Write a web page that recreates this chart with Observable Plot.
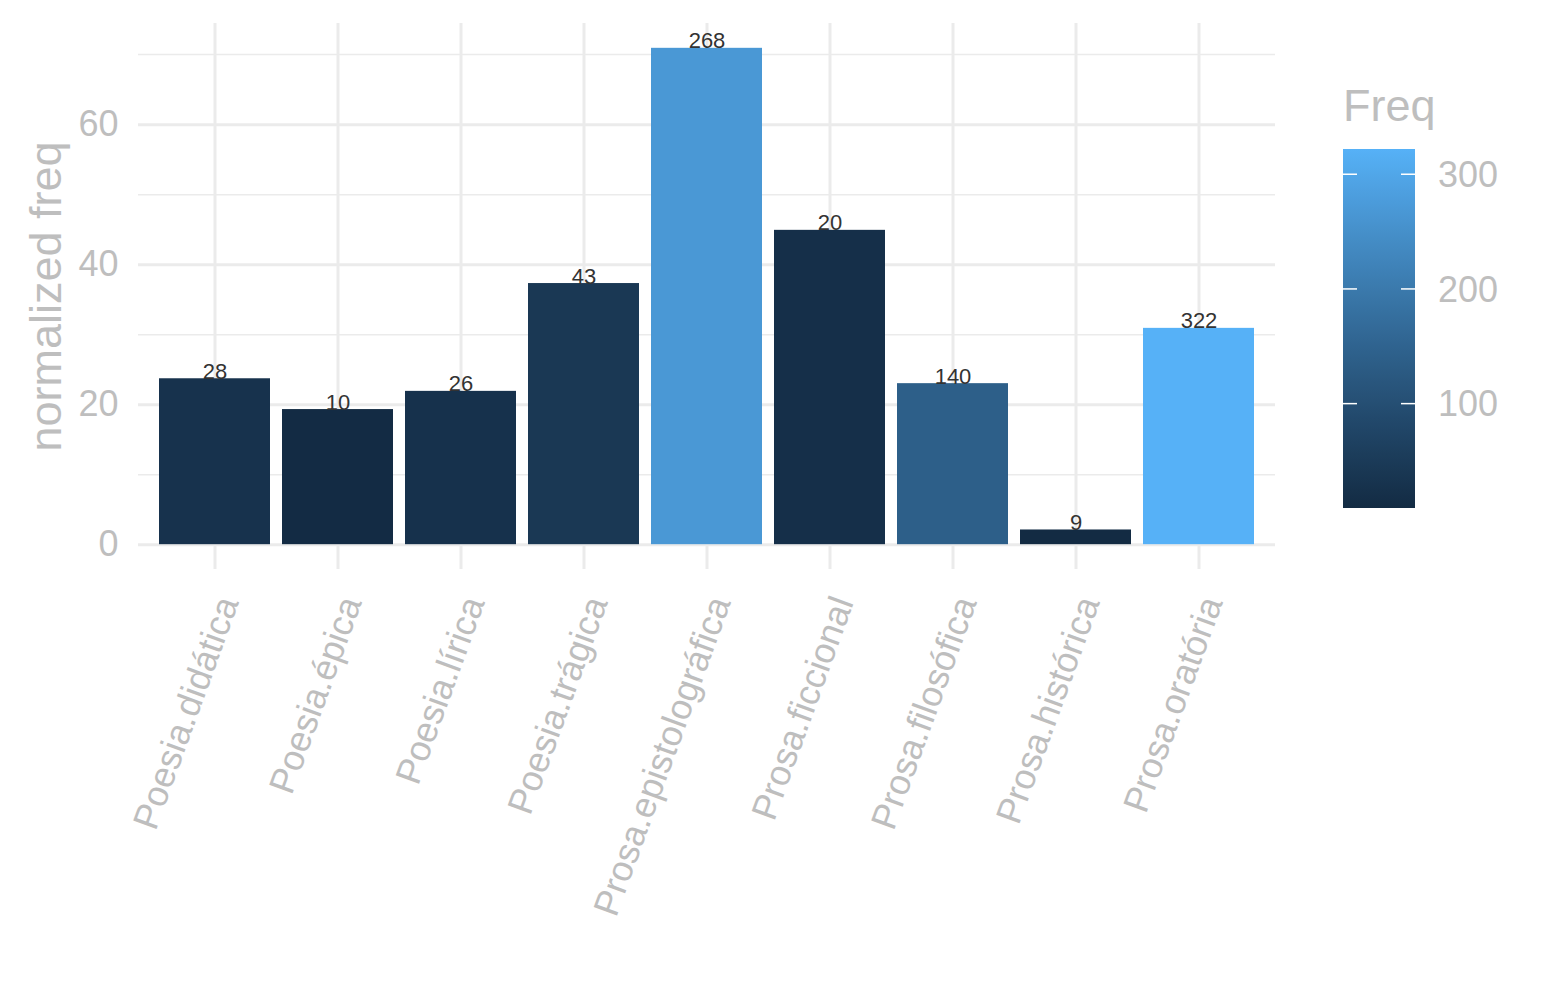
<!DOCTYPE html>
<html>
<head>
<meta charset="utf-8">
<script src="https://cdn.jsdelivr.net/npm/d3@7"></script>
<script src="https://cdn.jsdelivr.net/npm/@observablehq/plot@0.6"></script>
<style>
  html, body { margin: 0; padding: 0; background: #fff; }
  #chart { position: relative; width: 1545px; height: 1000px; }
</style>
</head>
<body>
<div id="chart"></div>
<script>
// ---- data ----
const categories = ["Poesia.didática", "Poesia.épica", "Poesia.lírica", "Poesia.trágica",
  "Prosa.epistolográfica", "Prosa.ficcional", "Prosa.filosófica", "Prosa.histórica", "Prosa.oratória"];
const normFreq = [23.7, 19.3, 21.9, 37.3, 70.9, 44.9, 23.0, 2.1, 30.9];
const freq = [28, 10, 26, 43, 268, 20, 140, 9, 322];
const yTicksMajor = [0, 20, 40, 60];
const yTicksMinor = [10, 30, 50, 70];
const legendTicks = [100, 200, 300];
const yTitle = "normalized freq";
const legendTitle = "Freq";
const colorRange = ["#132B43", "#56B1F7"];

const data = categories.map((c, i) => ({cat: c, norm: normFreq[i], freq: freq[i]}));

const textGray = "#BEBEBE";
const gridGray = "#EBEBEB";
const font = "'Liberation Sans', Arial, Helvetica, sans-serif";

const yMax = d3.max(normFreq);
const pad = yMax * 0.05;
const freqDomain = d3.extent(freq);

const chart = Plot.plot({
  width: 1545,
  height: 1000,
  marginLeft: 138,
  marginRight: 270,
  marginTop: 23,
  marginBottom: 431,
  style: {fontFamily: font, color: textGray, background: "#fff", overflow: "visible"},
  x: {type: "band", domain: categories, paddingInner: 0.1, paddingOuter: 0.15, axis: null},
  y: {domain: [-pad, yMax + pad], axis: null},
  color: {type: "linear", domain: freqDomain, range: colorRange, interpolate: d3.interpolateLab},
  marks: [
    Plot.ruleY(yTicksMinor, {stroke: gridGray, strokeWidth: 1.5}),
    Plot.ruleY(yTicksMajor, {stroke: gridGray, strokeWidth: 3}),
    Plot.ruleX(categories, {x: d => d, stroke: gridGray, strokeWidth: 3}),
    Plot.barY(data, {x: "cat", y: "norm", fill: "freq"}),
    Plot.text(data, {x: "cat", y: "norm", text: d => String(d.freq), lineAnchor: "bottom",
      fontSize: 22, fill: "#333333"}),
    Plot.axisY({ticks: yTicksMajor, tickSize: 0, tickPadding: 20, fontSize: 36, label: null, color: textGray}),
    Plot.text(categories, {x: d => d, text: d => d, frameAnchor: "bottom", dy: 24, rotate: -70,
      textAnchor: "end", lineAnchor: "top", fontSize: 36, fill: textGray}),
    Plot.text([yTitle], {text: d => d, frameAnchor: "left", rotate: -90, dx: -78,
      textAnchor: "middle", lineAnchor: "bottom", fontSize: 45, fill: textGray})
  ]
});

document.getElementById("chart").appendChild(chart);

// ---- colorbar legend ----
const svg = d3.select(chart);
const cscale = d3.scaleLinear().domain(freqDomain).range(colorRange).interpolate(d3.interpolateLab);
const barX = 1343, barW = 72, barTop = 149, barBottom = 508;
const ly = d3.scaleLinear().domain(freqDomain).range([barBottom, barTop]);

const defs = svg.append("defs");
const grad = defs.append("linearGradient").attr("id", "freqGrad")
  .attr("x1", 0).attr("y1", 1).attr("x2", 0).attr("y2", 0);
d3.range(0, 1.0001, 0.05).forEach(t => {
  grad.append("stop").attr("offset", t)
    .attr("stop-color", cscale(freqDomain[0] + t * (freqDomain[1] - freqDomain[0])));
});

const lg = svg.append("g").attr("font-family", font).attr("text-anchor", "start");
lg.append("text").attr("x", barX).attr("y", 121).attr("font-size", 45).attr("fill", textGray).text(legendTitle);
lg.append("rect").attr("x", barX).attr("y", barTop).attr("width", barW).attr("height", barBottom - barTop)
  .attr("fill", "url(#freqGrad)");
legendTicks.forEach(v => {
  const yy = ly(v);
  lg.append("line").attr("x1", barX).attr("x2", barX + 14).attr("y1", yy).attr("y2", yy)
    .attr("stroke", "#fff").attr("stroke-width", 1.5);
  lg.append("line").attr("x1", barX + barW - 14).attr("x2", barX + barW).attr("y1", yy).attr("y2", yy)
    .attr("stroke", "#fff").attr("stroke-width", 1.5);
  lg.append("text").attr("x", 1438).attr("y", yy).attr("dy", "0.35em").attr("font-size", 36)
    .attr("fill", textGray).text(v);
});
</script>
</body>
</html>
